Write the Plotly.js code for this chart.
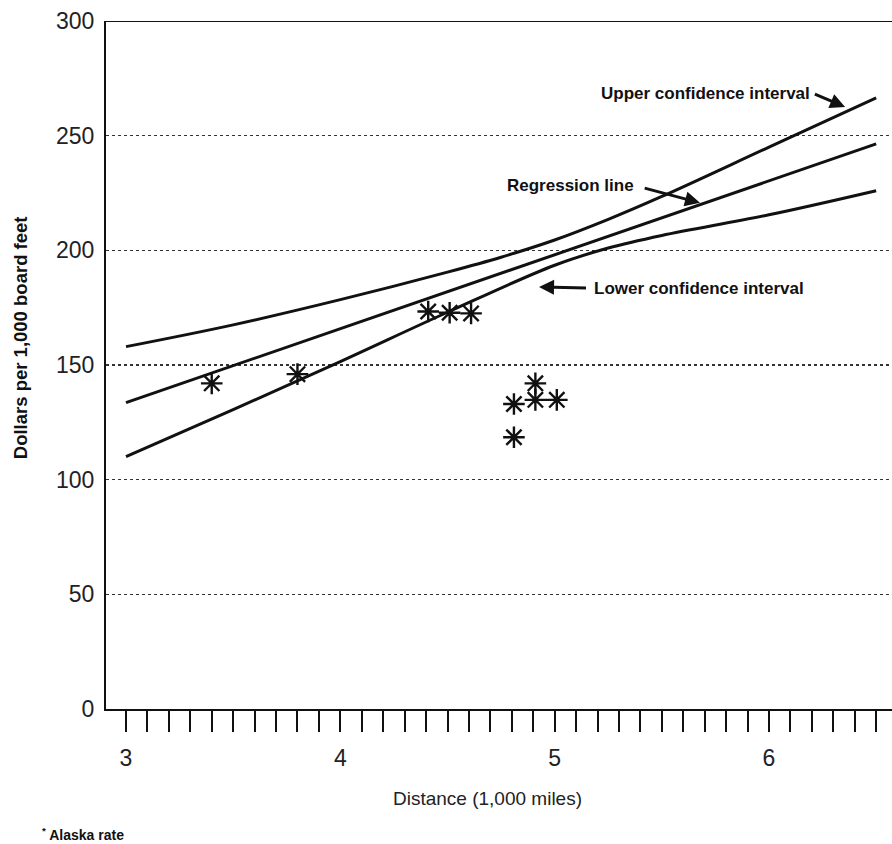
<!DOCTYPE html>
<html>
<head>
<meta charset="utf-8">
<script src="https://cdn.plot.ly/plotly-3.0.1.min.js"></script>
<style>
  html, body { margin: 0; padding: 0; background: #fff; }
  #chart { width: 892px; height: 844px; }
</style>
</head>
<body>
<div id="chart"></div>
<script>
// Observed rates (asterisks)
const obsDistance = [3.4, 3.8, 4.41, 4.51, 4.61, 4.81, 4.81, 4.91, 4.91, 5.01];
const obsDollars  = [142, 146, 173.3, 172.8, 172.5, 133, 118.5, 142, 134.8, 134.8];

// Regression line
const regDistance = [3.0, 6.5];
const regDollars  = [133.6, 246.4];

// Confidence intervals
const upperDistance = [3.0, 3.5, 4.0, 4.5, 4.75, 5.0, 5.25, 5.5, 6.0, 6.5];
const upperCI       = [158, 167.5, 178.5, 190.5, 197, 204.5, 213.5, 223.5, 245, 266.5];
const lowerDistance = [3.0, 3.5, 4.0, 4.5, 5.0, 5.25, 5.5, 6.0, 6.5];
const lowerCI       = [110, 130.5, 151.5, 173, 193.5, 201, 206.5, 215.5, 226];

const yTicks = [0, 50, 100, 150, 200, 250, 300];
const xTicks = [3, 4, 5, 6];

const lineStyle = {color: '#111', width: 3};
const FONT = 'Liberation Sans, Arial, Helvetica, sans-serif';

const traces = [
  {x: upperDistance, y: upperCI, mode: 'lines', line: Object.assign({shape: 'spline', smoothing: 1}, lineStyle), hoverinfo: 'skip'},
  {x: regDistance, y: regDollars, mode: 'lines', line: lineStyle, hoverinfo: 'skip'},
  {x: lowerDistance, y: lowerCI, mode: 'lines', line: Object.assign({shape: 'spline', smoothing: 1}, lineStyle), hoverinfo: 'skip'},
  {x: obsDistance, y: obsDollars, mode: 'markers',
   marker: {symbol: 'asterisk-open', size: 18, color: '#111', line: {color: '#111', width: 2.4}}}
];

const txtFont = {family: FONT, size: 17, color: '#111', weight: 'bold'};
const arrowStyle = {showarrow: true, arrowhead: 2, arrowsize: 1, arrowwidth: 3, arrowcolor: '#111', axref: 'pixel', ayref: 'pixel', standoff: 0};

const layout = {
  width: 892, height: 844,
  margin: {l: 106, r: 0, t: 21, b: 135, pad: 0},
  paper_bgcolor: '#fff', plot_bgcolor: '#fff',
  showlegend: false,
  font: {family: FONT, color: '#222'},
  xaxis: {
    range: [2.9067, 6.5739],
    tickvals: xTicks,
    ticks: 'outside', ticklen: 21, tickwidth: 2, tickcolor: '#111',
    minor: {dtick: 0.1, tick0: 3, ticks: 'outside', ticklen: 21, tickwidth: 2, tickcolor: '#111', showgrid: false},
    tickfont: {size: 23, color: '#222'},
    ticklabelstandoff: 6,
    showline: true, linecolor: '#111', linewidth: 2,
    showgrid: false, zeroline: false, fixedrange: true
  },
  yaxis: {
    range: [0, 300],
    tickvals: yTicks,
    ticks: '',
    tickfont: {size: 23, color: '#222'},
    ticklabelstandoff: 5,
    showline: true, linecolor: '#111', linewidth: 2,
    showgrid: true, gridcolor: '#333', griddash: 'dot', gridwidth: 1.2,
    zeroline: false, fixedrange: true
  },
  shapes: [
    {type: 'line', xref: 'paper', yref: 'y', x0: 0, x1: 1, y0: 300, y1: 300, line: {color: '#111', width: 2}}
  ],
  annotations: [
    {xref: 'paper', yref: 'paper', x: -0.1094, y: 0.539, xanchor: 'center', yanchor: 'middle',
     text: 'Dollars per 1,000 board feet', textangle: -90,
     showarrow: false, font: {family: FONT, size: 18.5, color: '#111', weight: 'bold'}},
    {xref: 'paper', yref: 'paper', x: 0.485, y: -0.1308, xanchor: 'center', yanchor: 'middle', text: 'Distance (1,000 miles)',
     showarrow: false, font: {family: FONT, size: 19, color: '#222'}},
    {xref: 'paper', yref: 'paper', x: -0.084, y: -0.1817, xanchor: 'left', yanchor: 'middle', text: '<sup>*</sup> Alaska rate',
     showarrow: false, font: {family: FONT, size: 14, color: '#111', weight: 'bold'}},

    Object.assign({xref: 'x', yref: 'y', x: 6.355, y: 262.5, ax: -33, ay: -14, xanchor: 'right', yanchor: 'middle',
     text: 'Upper confidence interval', font: txtFont, startstandoff: 3}, arrowStyle),
    Object.assign({xref: 'x', yref: 'y', x: 5.678, y: 220.7, ax: -64, ay: -17, xanchor: 'right', yanchor: 'middle',
     text: 'Regression line', font: txtFont, startstandoff: 9}, arrowStyle),
    Object.assign({xref: 'x', yref: 'y', x: 4.927, y: 184, ax: 53, ay: 1, xanchor: 'left', yanchor: 'middle',
     text: 'Lower confidence interval', font: txtFont, startstandoff: 6}, arrowStyle)
  ]
};

Plotly.newPlot('chart', traces, layout, {displayModeBar: false, staticPlot: true});
</script>
</body>
</html>
